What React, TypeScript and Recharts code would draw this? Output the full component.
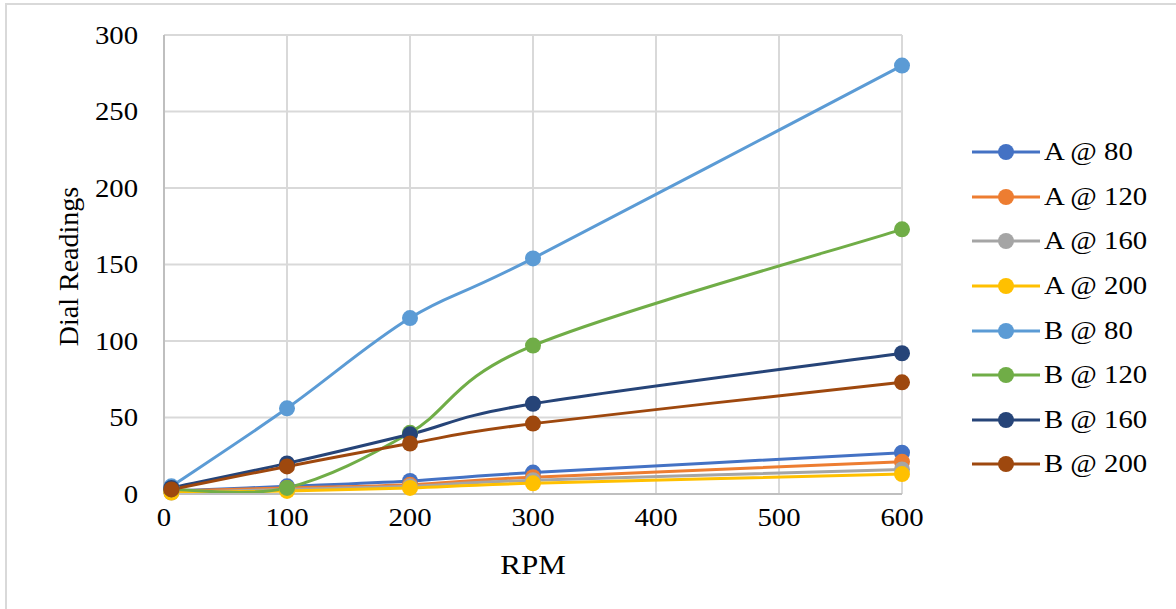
import React from "react";
import { LineChart, Line, XAxis, YAxis, CartesianGrid, Legend } from "recharts";

const rpm = [6, 100, 200, 300, 600];

const a80 = [2, 5, 8.5, 14, 27];
const a120 = [2, 4, 6, 11, 21];
const a160 = [1, 3, 5, 9, 16];
const a200 = [1, 2, 4, 7, 13];
const b80 = [5, 56, 115, 154, 280];
const b120 = [3, 4, 40, 97, 173];
const b160 = [4, 20, 39, 59, 92];
const b200 = [3, 18, 33, 46, 73];

const xTicks = [0, 100, 200, 300, 400, 500, 600];
const yTicks = [0, 50, 100, 150, 200, 250, 300];

const series = [
  { key: "a80", name: "A @ 80", color: "#4472C4", values: a80 },
  { key: "a120", name: "A @ 120", color: "#ED7D31", values: a120 },
  { key: "a160", name: "A @ 160", color: "#A5A5A5", values: a160 },
  { key: "a200", name: "A @ 200", color: "#FFC000", values: a200 },
  { key: "b80", name: "B @ 80", color: "#5B9BD5", values: b80 },
  { key: "b120", name: "B @ 120", color: "#70AD47", values: b120 },
  { key: "b160", name: "B @ 160", color: "#264478", values: b160 },
  { key: "b200", name: "B @ 200", color: "#9E480E", values: b200 },
];

const data = rpm.map((r, i) => {
  const row: Record<string, number> = { rpm: r };
  series.forEach((s) => (row[s.key] = s.values[i]));
  return row;
});

const font = "'Liberation Serif', 'Times New Roman', serif";
const STRETCH = 1.15; // the source image text is a bit wide

// Excel-like smoothing: uniform Catmull-Rom drawn as cubic beziers
function excelCurve(context: any) {
  let pts: [number, number][] = [];
  return {
    areaStart() {},
    areaEnd() {},
    lineStart() {
      pts = [];
    },
    point(x: number, y: number) {
      pts.push([+x, +y]);
    },
    lineEnd() {
      if (!pts.length) return;
      context.moveTo(pts[0][0], pts[0][1]);
      for (let i = 0; i < pts.length - 1; i++) {
        const p0 = pts[Math.max(i - 1, 0)];
        const p1 = pts[i];
        const p2 = pts[i + 1];
        const p3 = pts[Math.min(i + 2, pts.length - 1)];
        context.bezierCurveTo(
          p1[0] + (p2[0] - p0[0]) / 6,
          p1[1] + (p2[1] - p0[1]) / 6,
          p2[0] - (p3[0] - p1[0]) / 6,
          p2[1] - (p3[1] - p1[1]) / 6,
          p2[0],
          p2[1]
        );
      }
    },
  };
}

function XTick({ x, y, payload }: any) {
  return (
    <text
      transform={`translate(${x},${y}) scale(${STRETCH},1)`}
      textAnchor="middle"
      dy="0.9em"
      fontFamily={font}
      fontSize={25}
      fill="#000"
    >
      {payload.value}
    </text>
  );
}

function YTick({ x, y, payload }: any) {
  return (
    <text
      transform={`translate(${x},${y}) scale(${STRETCH},1)`}
      textAnchor="end"
      dy="0.35em"
      fontFamily={font}
      fontSize={25}
      fill="#000"
    >
      {payload.value}
    </text>
  );
}

function RpmLabel({ viewBox }: any) {
  const cx = viewBox.x + viewBox.width / 2;
  const by = viewBox.y + viewBox.height;
  return (
    <text
      transform={`translate(${cx},${by}) scale(${STRETCH},1)`}
      textAnchor="middle"
      fontFamily={font}
      fontSize={27}
      fill="#000"
    >
      RPM
    </text>
  );
}

function LegendBox() {
  return (
    <div style={{ fontFamily: font, fontSize: 25, color: "#000" }}>
      {series.map((s) => (
        <div key={s.key} style={{ display: "flex", alignItems: "center", height: 44.6 }}>
          <svg width={72} height={20} style={{ marginRight: 2 }}>
            <line x1={2} y1={10} x2={70} y2={10} stroke={s.color} strokeWidth={3} />
            <circle cx={36} cy={10} r={8} fill={s.color} />
          </svg>
          <span
            style={{
              display: "inline-block",
              whiteSpace: "nowrap",
              transform: `scaleX(${STRETCH})`,
              transformOrigin: "left center",
            }}
          >
            {s.name}
          </span>
        </div>
      ))}
    </div>
  );
}

export default function App() {
  return (
    <div style={{ position: "absolute", left: 0, top: 0, width: 1176, height: 609, background: "#fff", overflow: "hidden" }}>
      <div
        style={{
          position: "absolute",
          left: 5,
          top: 3,
          width: 1200,
          height: 640,
          border: "2px solid #d9d9d9",
        }}
      />
      <LineChart
        width={1176}
        height={609}
        data={data}
        margin={{ top: 35, right: 68, left: 0, bottom: 35 }}
        style={{ position: "absolute", left: 0, top: 0 }}
      >
        <CartesianGrid stroke="#d9d9d9" strokeWidth={2} />
        <XAxis
          dataKey="rpm"
          type="number"
          domain={[0, 600]}
          ticks={xTicks}
          tickLine={false}
          tickSize={0}
          tickMargin={10}
          height={80}
          axisLine={{ stroke: "#bfbfbf", strokeWidth: 2 }}
          tick={<XTick />}
          label={<RpmLabel />}
        />
        <YAxis
          type="number"
          domain={[0, 300]}
          ticks={yTicks}
          tickLine={false}
          tickSize={0}
          tickMargin={26}
          width={164}
          axisLine={{ stroke: "#bfbfbf", strokeWidth: 2 }}
          tick={<YTick />}
          label={{
            value: "Dial Readings",
            angle: -90,
            position: "insideLeft",
            offset: 68,
            dy: 2,
            style: { fontFamily: font, fontSize: 28, fill: "#000", textAnchor: "middle" },
          }}
        />
        <Legend
          layout="vertical"
          align="right"
          verticalAlign="top"
          content={() => <LegendBox />}
          wrapperStyle={{ left: 970, top: 130, width: 206 }}
        />
        {series.map((s) => (
          <Line
            key={s.key}
            dataKey={s.key}
            name={s.name}
            type={excelCurve as any}
            stroke={s.color}
            strokeWidth={3}
            dot={{ r: 8, fill: s.color, stroke: s.color, strokeWidth: 0 }}
            activeDot={false}
            isAnimationActive={false}
          />
        ))}
      </LineChart>
    </div>
  );
}
